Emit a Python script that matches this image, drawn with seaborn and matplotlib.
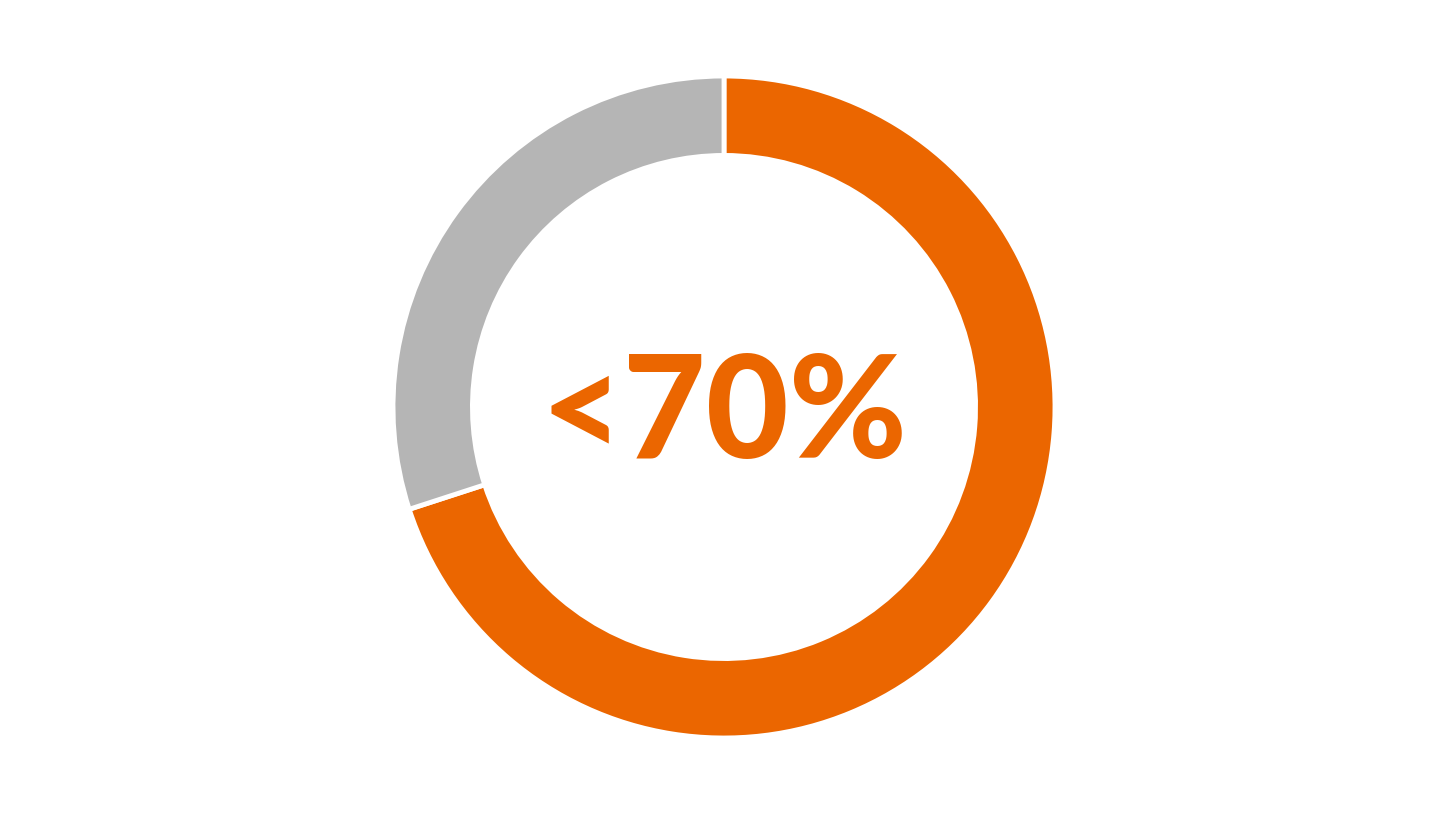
import matplotlib
matplotlib.use("Agg")
import matplotlib.pyplot as plt
import seaborn as sns

# Data
labels = ["Achieved", "Remaining"]
values = [70, 30]
center_label = "<70%"

colors = ["#EB6600", "#B5B5B5"]

sns.set_theme(style="white")
plt.rcParams['font.family'] = ['Lato', 'DejaVu Sans']

fig = plt.figure(figsize=(14.48, 8.15), dpi=100, facecolor="white")
ax = fig.add_axes([(724 - 331) / 1448, (408 - 331) / 815, 662 / 1448, 662 / 815])
ax.pie(values, colors=colors, startangle=90, counterclock=False, radius=1,
       wedgeprops=dict(width=0.24, edgecolor="white", linewidth=3.5))
ax.set_xlim(-1.0, 1.0)
ax.set_ylim(-1.0, 1.0)
ax.set_aspect("auto")
ax.axis("off")

ax.text(0, -0.03, center_label, ha="center", va="center", fontsize=103,
        fontweight="black", color="#EB6600")

fig.savefig("out.png", dpi=100, facecolor="white")
